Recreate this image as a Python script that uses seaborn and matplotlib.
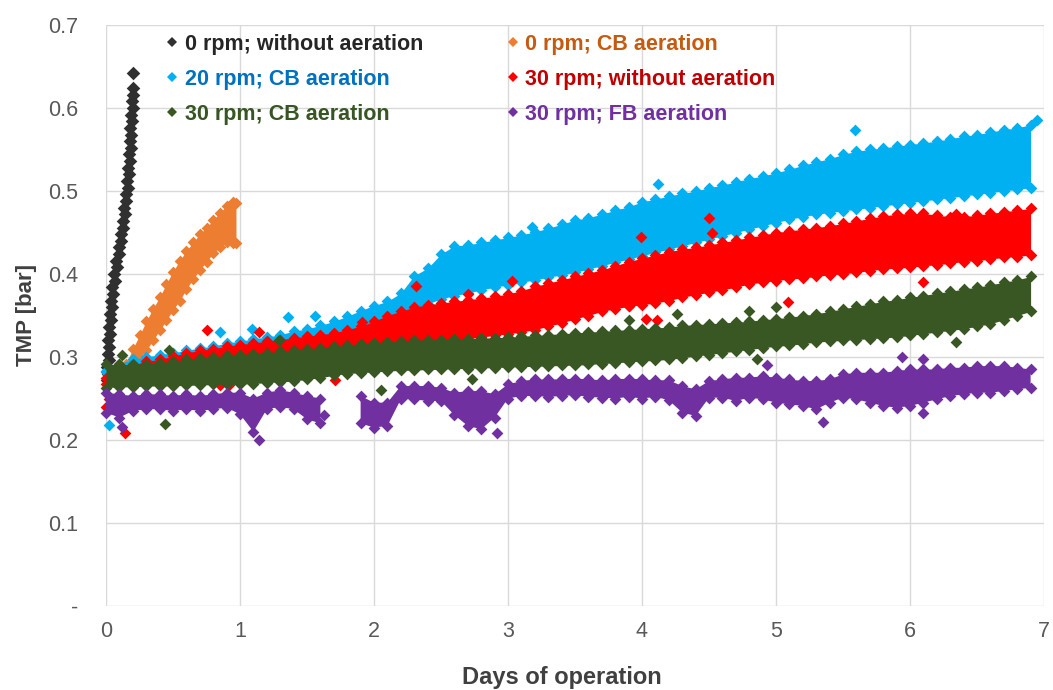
import numpy as np
import pandas as pd
import seaborn as sns
import matplotlib.pyplot as plt
from matplotlib.lines import Line2D

# --------------------------------------------------
# values (TMP in bar, time in days)
DAYS = [0.0, 0.1, 0.2, 0.3, 0.4, 0.5, 0.6, 0.7, 0.8, 0.9,
        1.0, 1.1, 1.2, 1.3, 1.4, 1.5, 1.6, 1.7, 1.8, 1.9,
        2.0, 2.1, 2.2, 2.3, 2.4, 2.5, 2.6, 2.7, 2.8, 2.9,
        3.0, 3.1, 3.2, 3.3, 3.4, 3.5, 3.6, 3.7, 3.8, 3.9,
        4.0, 4.1, 4.2, 4.3, 4.4, 4.5, 4.6, 4.7, 4.8, 4.9,
        5.0, 5.1, 5.2, 5.3, 5.4, 5.5, 5.6, 5.7, 5.8, 5.9,
        6.0, 6.1, 6.2, 6.3, 6.4, 6.5, 6.6, 6.7, 6.8, 6.9]

# 0 rpm; without aeration (short, steep run)
BLACK_DAY = [0.004, 0.012, 0.006, 0.020, 0.012, 0.026, 0.018, 0.030, 0.022, 0.036,
             0.028, 0.042, 0.034, 0.050, 0.045, 0.064, 0.060, 0.080, 0.078, 0.098,
             0.094, 0.112, 0.110, 0.130, 0.126, 0.142, 0.136, 0.152, 0.146, 0.162,
             0.154, 0.170, 0.162, 0.178, 0.170, 0.184, 0.176, 0.190, 0.182, 0.194,
             0.188, 0.200, 0.194, 0.204, 0.198, 0.204]
BLACK_TMP = [0.272, 0.280, 0.288, 0.296, 0.304, 0.312, 0.320, 0.328, 0.336, 0.344,
             0.352, 0.360, 0.368, 0.376, 0.384, 0.392, 0.400, 0.408, 0.416, 0.424,
             0.432, 0.440, 0.448, 0.456, 0.464, 0.472, 0.480, 0.488, 0.496, 0.504,
             0.512, 0.520, 0.528, 0.536, 0.544, 0.552, 0.560, 0.568, 0.576, 0.584,
             0.592, 0.600, 0.608, 0.616, 0.624, 0.642]

# 0 rpm; CB aeration
ORANGE_DAY = [0.12, 0.15, 0.20, 0.25, 0.30, 0.35, 0.40, 0.45, 0.50, 0.55,
              0.60, 0.65, 0.70, 0.75, 0.80, 0.85, 0.90, 0.95, 0.97]
ORANGE_HI = [0.280, 0.292, 0.310, 0.326, 0.343, 0.358, 0.372, 0.388, 0.403, 0.416,
             0.428, 0.438, 0.448, 0.456, 0.465, 0.474, 0.482, 0.487, 0.485]
ORANGE_LO = [0.278, 0.281, 0.289, 0.298, 0.308, 0.320, 0.332, 0.344, 0.357, 0.368,
             0.382, 0.394, 0.405, 0.415, 0.425, 0.432, 0.439, 0.437, 0.437]

# 20 rpm; CB aeration
BLUE_HI = [0.283, 0.292, 0.297, 0.300, 0.303, 0.305, 0.308, 0.311, 0.313, 0.317,
           0.319, 0.322, 0.324, 0.327, 0.331, 0.334, 0.338, 0.343, 0.349, 0.356,
           0.362, 0.367, 0.377, 0.398, 0.407, 0.424, 0.434, 0.435, 0.438, 0.441,
           0.444, 0.447, 0.451, 0.455, 0.460, 0.465, 0.468, 0.472, 0.477, 0.481,
           0.487, 0.490, 0.494, 0.497, 0.500, 0.504, 0.507, 0.511, 0.515, 0.518,
           0.522, 0.526, 0.531, 0.535, 0.539, 0.544, 0.548, 0.550, 0.552, 0.554,
           0.556, 0.558, 0.560, 0.563, 0.566, 0.568, 0.571, 0.574, 0.576, 0.580]
BLUE_LO = [0.282, 0.287, 0.290, 0.292, 0.294, 0.296, 0.298, 0.300, 0.302, 0.304,
           0.306, 0.308, 0.310, 0.312, 0.314, 0.316, 0.318, 0.320, 0.323, 0.327,
           0.332, 0.337, 0.344, 0.354, 0.364, 0.370, 0.374, 0.377, 0.381, 0.384,
           0.387, 0.390, 0.393, 0.396, 0.399, 0.402, 0.406, 0.410, 0.414, 0.418,
           0.422, 0.426, 0.430, 0.434, 0.438, 0.442, 0.446, 0.450, 0.454, 0.458,
           0.462, 0.466, 0.469, 0.472, 0.474, 0.476, 0.478, 0.480, 0.482, 0.484,
           0.486, 0.488, 0.490, 0.492, 0.494, 0.496, 0.498, 0.500, 0.502, 0.504]
BLUE_OUT_DAY = [0.02, 0.85, 1.09, 1.36, 1.56, 3.18, 4.12, 5.59, 6.95]
BLUE_OUT_TMP = [0.218, 0.330, 0.334, 0.348, 0.350, 0.457, 0.508, 0.574, 0.585]

# 30 rpm; without aeration
RED_HI = [0.275, 0.285, 0.290, 0.295, 0.297, 0.301, 0.305, 0.308, 0.310, 0.313,
          0.315, 0.317, 0.319, 0.321, 0.323, 0.325, 0.327, 0.329, 0.333, 0.337,
          0.343, 0.350, 0.355, 0.360, 0.363, 0.365, 0.367, 0.369, 0.371, 0.373,
          0.376, 0.380, 0.385, 0.389, 0.393, 0.397, 0.401, 0.405, 0.410, 0.415,
          0.419, 0.423, 0.427, 0.430, 0.432, 0.435, 0.438, 0.441, 0.444, 0.447,
          0.450, 0.452, 0.454, 0.456, 0.458, 0.461, 0.464, 0.467, 0.470, 0.472,
          0.473, 0.473, 0.471, 0.469, 0.469, 0.471, 0.473, 0.475, 0.477, 0.479]
RED_LO = [0.268, 0.270, 0.272, 0.274, 0.276, 0.278, 0.280, 0.282, 0.284, 0.286,
          0.288, 0.290, 0.292, 0.294, 0.296, 0.298, 0.300, 0.302, 0.304, 0.306,
          0.308, 0.310, 0.312, 0.314, 0.316, 0.318, 0.320, 0.322, 0.324, 0.326,
          0.328, 0.330, 0.333, 0.337, 0.341, 0.346, 0.350, 0.355, 0.358, 0.361,
          0.363, 0.365, 0.368, 0.372, 0.375, 0.378, 0.381, 0.384, 0.388, 0.390,
          0.392, 0.394, 0.395, 0.397, 0.399, 0.400, 0.402, 0.404, 0.406, 0.407,
          0.408, 0.410, 0.411, 0.413, 0.415, 0.416, 0.418, 0.420, 0.421, 0.423]
RED_OUT_DAY = [0.0, 0.02, 0.14, 0.75, 0.85, 0.92, 1.14, 1.71, 1.91, 2.31, 2.70,
               3.03, 3.90, 3.99, 4.03, 4.11, 4.50, 4.52, 5.09, 6.10, 6.34]
RED_OUT_TMP = [0.240, 0.250, 0.208, 0.332, 0.266, 0.266, 0.330, 0.272, 0.342, 0.385,
               0.376, 0.392, 0.362, 0.444, 0.346, 0.345, 0.468, 0.450, 0.366, 0.390,
               0.472]

# 30 rpm; CB aeration
GREEN_HI = [0.291, 0.291, 0.291, 0.292, 0.293, 0.295, 0.297, 0.299, 0.300, 0.302,
            0.303, 0.304, 0.305, 0.307, 0.308, 0.310, 0.311, 0.313, 0.314, 0.316,
            0.317, 0.318, 0.319, 0.320, 0.321, 0.321, 0.322, 0.322, 0.323, 0.323,
            0.324, 0.325, 0.326, 0.327, 0.328, 0.329, 0.330, 0.331, 0.332, 0.333,
            0.334, 0.335, 0.336, 0.338, 0.339, 0.340, 0.341, 0.342, 0.343, 0.345,
            0.346, 0.348, 0.350, 0.352, 0.355, 0.358, 0.361, 0.364, 0.367, 0.369,
            0.372, 0.374, 0.377, 0.379, 0.382, 0.384, 0.387, 0.390, 0.393, 0.397]
GREEN_LO = [0.263, 0.264, 0.264, 0.265, 0.265, 0.265, 0.266, 0.266, 0.267, 0.267,
            0.267, 0.268, 0.269, 0.270, 0.271, 0.273, 0.275, 0.278, 0.280, 0.281,
            0.282, 0.283, 0.284, 0.284, 0.285, 0.285, 0.286, 0.286, 0.287, 0.287,
            0.288, 0.288, 0.289, 0.289, 0.290, 0.290, 0.291, 0.292, 0.293, 0.294,
            0.295, 0.296, 0.297, 0.299, 0.301, 0.303, 0.305, 0.307, 0.309, 0.311,
            0.313, 0.314, 0.316, 0.318, 0.319, 0.320, 0.321, 0.322, 0.323, 0.324,
            0.326, 0.328, 0.330, 0.332, 0.334, 0.337, 0.340, 0.345, 0.350, 0.355]
GREEN_OUT_DAY = [0.12, 0.44, 0.47, 1.29, 2.05, 2.73, 3.90, 4.26, 4.80, 4.86, 5.00, 6.34]
GREEN_OUT_TMP = [0.302, 0.219, 0.309, 0.320, 0.260, 0.274, 0.345, 0.352, 0.356, 0.298,
                 0.360, 0.318]

# 30 rpm; FB aeration (gap around day 1.7-1.8)
nan = np.nan
PURPLE_HI = [0.257, 0.255, 0.253, 0.255, 0.255, 0.253, 0.255, 0.253, 0.255, 0.257,
             0.257, 0.250, 0.257, 0.260, 0.257, 0.253, 0.250, nan, nan, 0.253,
             0.245, 0.245, 0.265, 0.265, 0.265, 0.263, 0.257, 0.259, 0.259, 0.255,
             0.267, 0.271, 0.273, 0.273, 0.273, 0.274, 0.273, 0.272, 0.273, 0.274,
             0.273, 0.272, 0.272, 0.265, 0.261, 0.271, 0.273, 0.275, 0.275, 0.277,
             0.275, 0.273, 0.271, 0.271, 0.273, 0.279, 0.281, 0.281, 0.281, 0.283,
             0.285, 0.285, 0.285, 0.287, 0.287, 0.289, 0.289, 0.289, 0.287, 0.285]
PURPLE_LO = [0.233, 0.227, 0.235, 0.237, 0.237, 0.235, 0.237, 0.235, 0.237, 0.239,
             0.231, 0.210, 0.237, 0.240, 0.237, 0.225, 0.220, nan, nan, 0.220,
             0.215, 0.217, 0.249, 0.249, 0.247, 0.247, 0.230, 0.217, 0.213, 0.227,
             0.250, 0.253, 0.253, 0.252, 0.253, 0.254, 0.252, 0.251, 0.250, 0.252,
             0.250, 0.252, 0.248, 0.233, 0.229, 0.251, 0.251, 0.247, 0.251, 0.249,
             0.245, 0.243, 0.241, 0.237, 0.245, 0.251, 0.249, 0.245, 0.241, 0.239,
             0.241, 0.245, 0.249, 0.253, 0.255, 0.257, 0.257, 0.259, 0.261, 0.263]
PURPLE_OUT_DAY = [0.12, 1.14, 1.63, 2.92, 4.93, 5.35, 5.94, 6.10, 6.10]
PURPLE_OUT_TMP = [0.216, 0.200, 0.230, 0.208, 0.290, 0.222, 0.300, 0.298, 0.232]

SERIES = ['0 rpm; without aeration', '0 rpm; CB aeration', '20 rpm; CB aeration',
          '30 rpm; without aeration', '30 rpm; CB aeration', '30 rpm; FB aeration']
MARK_COLORS = ['#303030', '#ed7d31', '#00b0f0', '#ff0000', '#385723', '#7030a0']
TEXT_COLORS = ['#262626', '#c55a11', '#0070c0', '#c00000', '#375623', '#7030a0']

Y_TICKS = [0.0, 0.1, 0.2, 0.3, 0.4, 0.5, 0.6, 0.7]
Y_LABELS = ['-', '0.1', '0.2', '0.3', '0.4', '0.5', '0.6', '0.7']
X_TICKS = [0, 1, 2, 3, 4, 5, 6, 7]

MARKER_S = 36


# --------------------------------------------------
def dots(ax, xs, ys, color, z, size=MARKER_S):
    """scatter the diamond markers of one series"""
    df = pd.DataFrame({'day': xs, 'tmp': ys}).dropna()
    sns.scatterplot(data=df, x='day', y='tmp', marker='D', s=size,
                    color=color, linewidth=0, ax=ax, zorder=z,
                    clip_on=False, legend=False)


# --------------------------------------------------
def band(ax, days, lo, hi, out_d, out_v, color, z):
    """dense cloud of points: filled core plus edge/outlier diamonds"""
    ax.fill_between(days, lo, hi, color=color, linewidth=0, zorder=z)
    dots(ax, list(days) + list(days) + list(out_d),
         list(hi) + list(lo) + list(out_v), color, z)


# --------------------------------------------------
def main():
    sns.set_theme(style='white')
    plt.rcParams['font.family'] = ['Liberation Sans', 'DejaVu Sans']

    fig = plt.figure(figsize=(10.53, 6.9), dpi=100)
    fig.patch.set_facecolor('white')
    ax = fig.add_axes([106 / 1053, 1 - 606 / 690, 938 / 1053, 581 / 690])

    dots(ax, BLACK_DAY, BLACK_TMP, MARK_COLORS[0], 2, size=48)
    band(ax, ORANGE_DAY, ORANGE_LO, ORANGE_HI, [], [], MARK_COLORS[1], 3)
    band(ax, DAYS, BLUE_LO, BLUE_HI, BLUE_OUT_DAY, BLUE_OUT_TMP, MARK_COLORS[2], 4)
    band(ax, DAYS, RED_LO, RED_HI, RED_OUT_DAY, RED_OUT_TMP, MARK_COLORS[3], 5)
    band(ax, DAYS, GREEN_LO, GREEN_HI, GREEN_OUT_DAY, GREEN_OUT_TMP, MARK_COLORS[4], 6)
    band(ax, DAYS, PURPLE_LO, PURPLE_HI, PURPLE_OUT_DAY, PURPLE_OUT_TMP, MARK_COLORS[5], 7)

    ax.set_xlim(0, 7)
    ax.set_ylim(0, 0.7)
    ax.set_xticks(X_TICKS)
    ax.set_yticks(Y_TICKS)
    ax.set_yticklabels(Y_LABELS)
    ax.set_axisbelow(True)
    ax.grid(True, color='#d9d9d9', linewidth=1.0)
    for sp in ax.spines.values():
        sp.set_visible(False)
    ax.tick_params(axis='both', length=0, labelsize=15.5, labelcolor='#595959')
    ax.tick_params(axis='y', pad=20)
    ax.tick_params(axis='x', pad=11)

    ax.set_xlabel('Days of operation', fontsize=17, fontweight='bold', color='#404040')
    ax.set_ylabel('TMP [bar]', fontsize=16, fontweight='bold', color='#404040')
    ax.xaxis.set_label_coords((562 - 106) / 938, (606 - 666) / 581)
    ax.yaxis.set_label_coords((37 - 106) / 938, 0.5)

    # legend: two columns, filled row-wise like the original
    order = [0, 2, 4, 1, 3, 5]
    handles = [Line2D([], [], marker='D', linestyle='', markersize=5,
                      markeredgewidth=0, color=MARK_COLORS[i]) for i in order]
    labels = [SERIES[i] for i in order]
    leg = ax.legend(handles, labels, ncol=2, frameon=False, loc='upper left',
                    bbox_to_anchor=(166 / 1053, 1 - 34 / 690),
                    bbox_transform=fig.transFigure, borderaxespad=0, borderpad=0,
                    handlelength=0.6, handletextpad=0.26, columnspacing=3.9,
                    labelspacing=0.64,
                    prop={'size': 15.5, 'weight': 'bold'})
    for txt, i in zip(leg.get_texts(), order):
        txt.set_color(TEXT_COLORS[i])
    leg.set_zorder(10)

    fig.savefig('out.png', dpi=100, facecolor='white')


# --------------------------------------------------
if __name__ == '__main__':
    main()
